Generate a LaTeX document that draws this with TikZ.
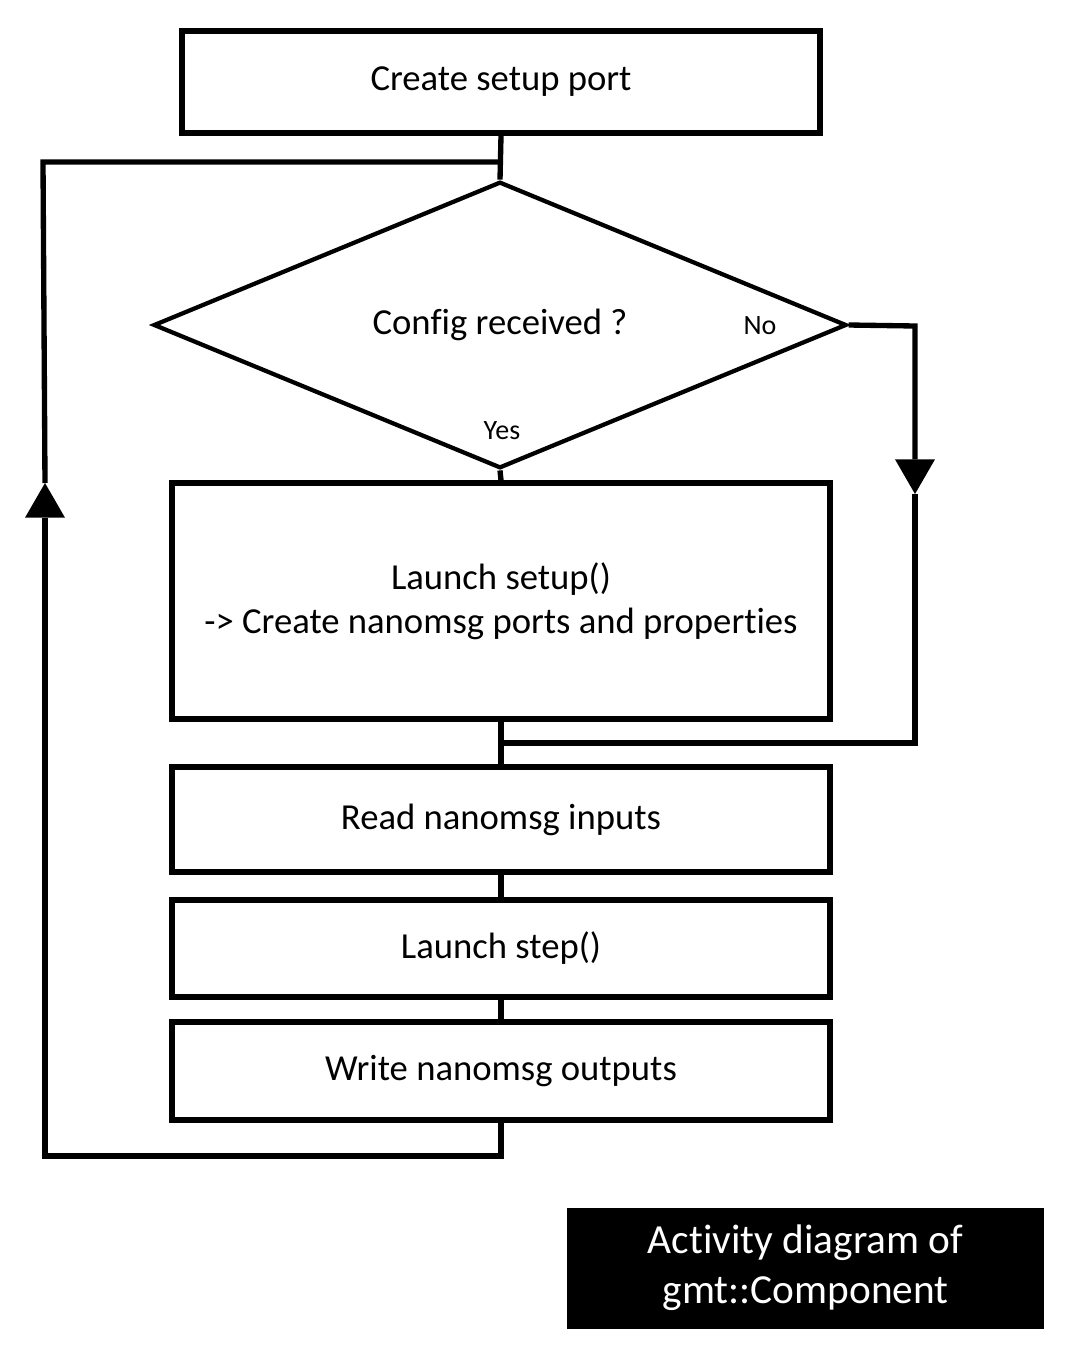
\documentclass[tikz,border=0pt]{standalone}
\usepackage{fontspec}
\setmainfont{Carlito}[Ligatures=NoCommon]
\usetikzlibrary{shapes.geometric,arrows.meta}
\begin{document}
\begin{tikzpicture}[x=0.75pt,y=-0.75pt,
  box/.style={draw,line width=4pt,inner sep=0pt,font=\fontsize{27.5pt}{33pt}\selectfont,align=center},
  conn/.style={line width=4pt},
  tip/.style={-{Triangle[length=26pt,width=30pt,line width=0pt]}},
  lbl/.style={font=\fontsize{21pt}{25pt}\selectfont,inner sep=0pt}]
\useasboundingbox (0,0) rectangle (1076,1356);
% nodes
\node[box,minimum width=478.5pt,minimum height=76.5pt] (b1) at (501,82) {\raisebox{-2pt}{Create setup port}};
\node[diamond,draw,line width=3.2pt,inner sep=0pt,minimum width=519.75pt,minimum height=214.5pt,
      font=\fontsize{27.5pt}{33pt}\selectfont] (d) at (500,325) {Config received ?};
\node[box,minimum width=493.5pt,minimum height=177pt] (b2) at (501,601)
  {Launch setup()\\-> Create nanomsg ports and properties};
\node[box,minimum width=493.5pt,minimum height=78.75pt] (b3) at (501,819.5) {\raisebox{-2pt}{Read nanomsg inputs}};
\node[box,minimum width=493.5pt,minimum height=72.75pt] (b4) at (501,948.5) {\raisebox{-2pt}{Launch step()}};
\node[box,minimum width=493.5pt,minimum height=73.5pt] (b5) at (501,1071) {\raisebox{-2pt}{Write nanomsg outputs}};
\node[lbl] (no) at (760,326) {No};
\node[lbl] (yes) at (502,431) {Yes};
\node[fill=black,text=white,inner sep=0pt,minimum width=357.75pt,minimum height=90.75pt,
      align=center,font=\fontsize{31pt}{37.5pt}\selectfont] (title) at (805.5,1268)
  {Activity diagram of\\gmt::Component};
% coordinates
\coordinate (jt) at (501,162);
\coordinate (lt) at (43,162);
\coordinate (la) at (45,483);
\coordinate (lb) at (45,1156);
\coordinate (rt) at (915,326);
\coordinate (ra) at (915,494);
\coordinate (rj) at (501,743);
% connectors
\draw[conn] (b1.south) -- (d.north);
\draw[conn] (d.south) -- (b2.north);
\draw[conn] (b2.south) -- (b3.north);
\draw[conn] (b3.south) -- (b4.north);
\draw[conn] (b4.south) -- (b5.north);
\draw[conn,tip] (b5.south) |- (lb) -- (la);
\draw[conn,line join=miter] (la) -- (lt) -- (jt);
\draw[conn,tip,line join=miter] (d.east) -- (rt) -- (ra);
\draw[conn,line join=miter] (ra) |- (rj);
\end{tikzpicture}
\end{document}
